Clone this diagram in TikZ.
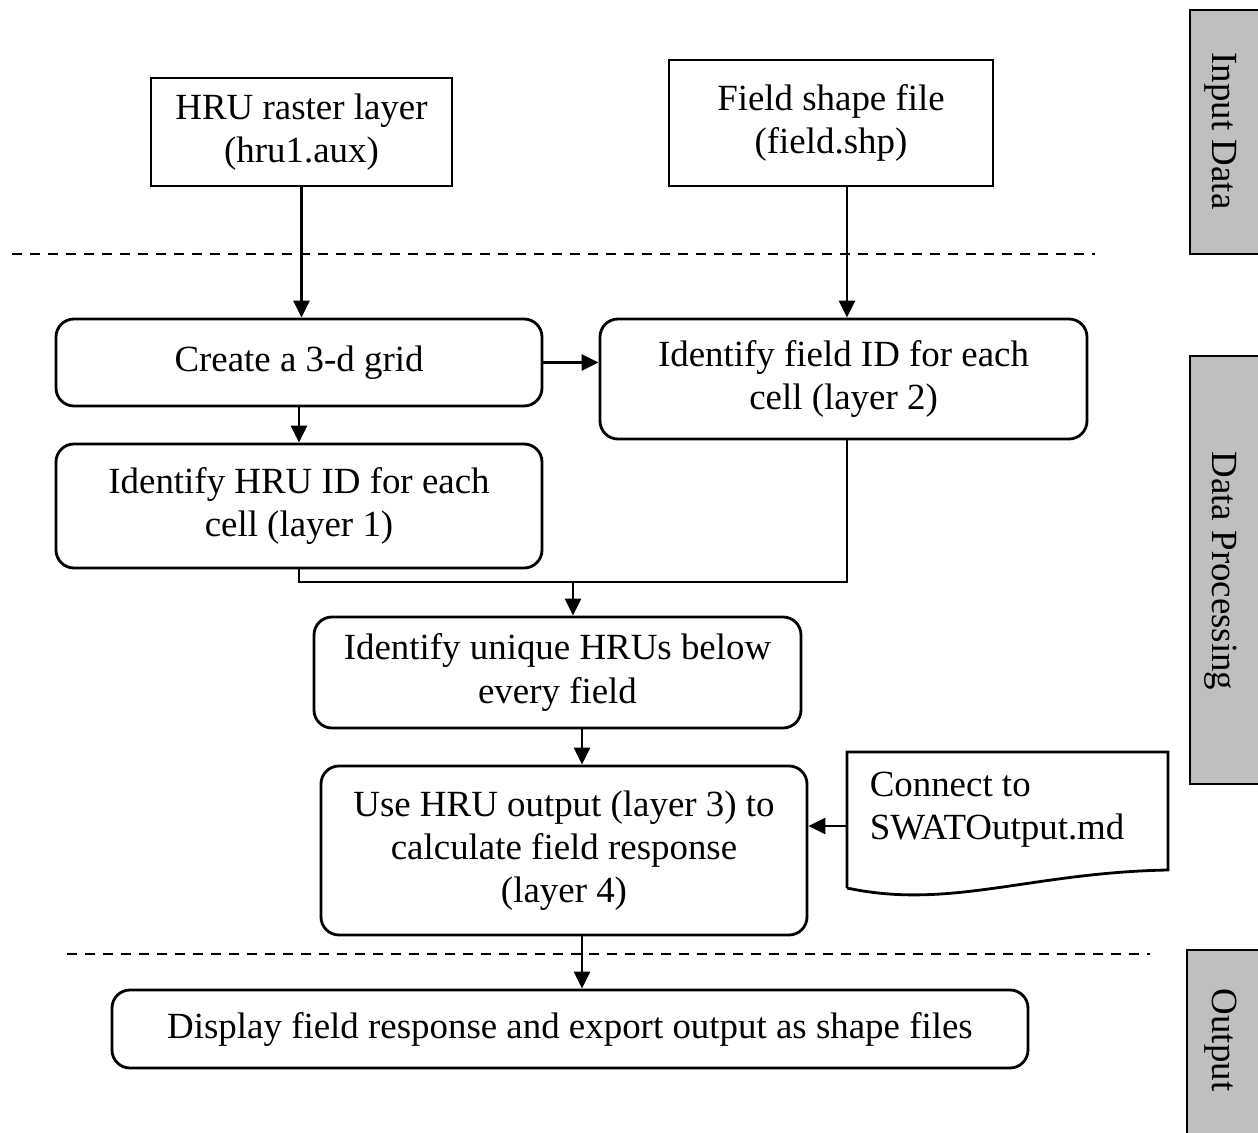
\documentclass[tikz,border=0pt]{standalone}
\usepackage{fontspec}
\setmainfont{Liberation Serif}
\usetikzlibrary{arrows.meta}

\begin{document}
\begin{tikzpicture}[line width=1.6pt,font=\fontsize{21}{24.5}\selectfont,
    box/.style={draw,rectangle,align=center,inner sep=0pt},
    rbox/.style={box,rounded corners=0.36cm},
    arr/.style={-{Triangle[length=3.4mm,width=3.2mm]}},
    sep/.style={line width=1pt,dash pattern=on 2mm off 1.6mm},
    side/.style={draw,fill=gray!50}]
    \useasboundingbox (0,0) rectangle (25.16,-22.66);
    \draw[side] (23.8,-0.2) rectangle (25.6,-5.08);
    \draw[side] (23.8,-7.12) rectangle (25.6,-15.68);
    \draw[side] (23.74,-19.0) rectangle (25.6,-23);
    \node[rotate=-90] (inlab) at (24.42,-2.62) {Input Data};
    \node[rotate=-90] (proclab) at (24.42,-11.42) {Data Processing};
    \node[rotate=-90] (outlab) at (24.42,-20.8) {Output};
    \draw[sep] (0.24,-5.08) -- (21.9,-5.08);
    \draw[sep] (1.34,-19.08) -- (23.0,-19.08);
    \node[box,minimum width=6.02cm,minimum height=2.16cm] (hru) at (6.03,-2.64) {HRU raster layer\\(hru1.aux)};
    \node[box,minimum width=6.48cm,minimum height=2.52cm] (field) at (16.62,-2.46) {Field shape file\\(field.shp)};
    \node[rbox,minimum width=9.72cm,minimum height=1.74cm] (grid) at (5.98,-7.25) {Create a 3-d grid};
    \node[rbox,minimum width=9.74cm,minimum height=2.4cm] (fieldid) at (16.87,-7.58) {Identify field ID for each\\cell (layer 2)};
    \node[rbox,minimum width=9.72cm,minimum height=2.48cm] (hruid) at (5.98,-10.12) {Identify HRU ID for each\\cell (layer 1)};
    \node[rbox,minimum width=9.74cm,minimum height=2.22cm] (unique) at (11.15,-13.45) {Identify unique HRUs below\\every field};
    \node[rbox,minimum width=9.72cm,minimum height=3.38cm] (use) at (11.28,-17.01) {Use HRU output (layer 3) to\\calculate field response\\(layer 4)};
    \node[rbox,minimum width=18.32cm,minimum height=1.56cm] (display) at (11.40,-20.58) {Display field response and export output as shape files};
    \draw (16.94,-17.76) -- (16.94,-15.04) -- (23.36,-15.04) -- (23.36,-17.4)
        .. controls (20.6,-17.45) and (19.0,-18.2) .. (16.94,-17.76);
    \node[align=left,anchor=west] (doc) at (17.25,-16.2) {Connect to\\SWATOutput.md};
    \coordinate (docin) at (16.94,-16.52);
    \coordinate (merge) at (11.46,-11.64);
    \coordinate (spine) at (11.64,0);
    \draw[arr] (hru.south) -- (hru.south |- grid.north);
    \draw[arr] ([xshift=3.2mm]field.south) -- ([xshift=3.2mm]field.south |- fieldid.north);
    \draw[arr] (grid.east) -- (grid.east -| fieldid.west);
    \draw[arr] (grid.south) -- (hruid.north);
    \draw (hruid.south) -- (hruid.south |- merge) -- ([xshift=0.7mm]fieldid.south |- merge) -- ([xshift=0.7mm]fieldid.south);
    \draw[arr] (merge) -- (merge |- unique.north);
    \draw[arr] (unique.south -| spine) -- (use.north -| spine);
    \draw[arr] (use.south -| spine) -- (display.north -| spine);
    \draw[arr] (docin) -- (docin -| use.east);
\end{tikzpicture}
\end{document}
